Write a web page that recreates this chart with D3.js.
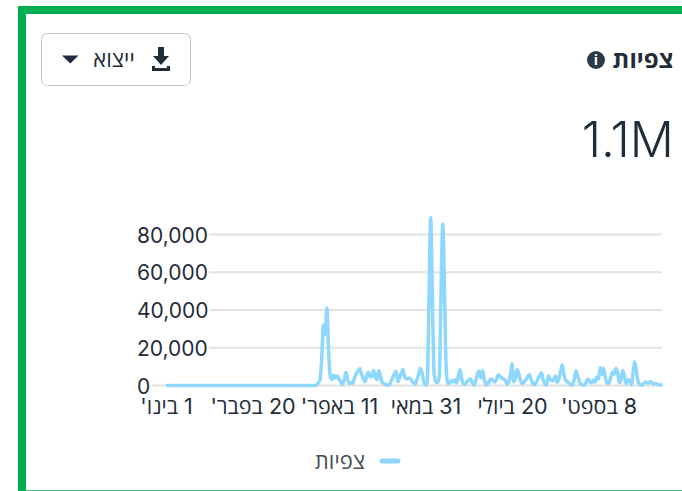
<!DOCTYPE html>
<html>
<head>
<meta charset="utf-8">
<script src="https://cdn.jsdelivr.net/npm/d3@7/dist/d3.min.js"></script>
<style>
html,body{margin:0;padding:0;background:#fff;overflow:hidden}
svg text{font-family:Inter,"Open Sans","DejaVu Sans",sans-serif}
</style>
</head>
<body>
<svg id="chart" width="682" height="491"></svg>
<script>
// day index on the x axis, one value per day from 1 Jan
var tickDays = [0, 50, 100, 150, 200, 250];
var tickLabels = ["1 בינו'", "20 בפבר'", "11 באפר'", "31 במאי", "20 ביולי", "8 בספט'"];
var yTicks = [0, 20000, 40000, 60000, 80000];
var seriesName = 'צפיות';
var views = [
  0,0,0,0,0,0,0,0,0,0,0,0,0,0,0,0,0,0,0,0,
  0,0,0,0,0,0,0,0,0,0,0,0,0,0,0,0,0,0,0,0,
  0,0,0,0,0,0,0,0,0,0,0,0,0,0,0,0,0,0,0,0,
  0,0,0,0,0,0,0,0,0,0,0,0,0,0,0,0,0,0,0,0,
  0,0,0,0,0,0,0,
  300,1500,2800,14000,32000,27000,41000,18000,4500,3200,5500,4000,5000,
  3500,1800,500,3000,7000,3000,1000,1500,1200,4000,6500,7500,9000,6000,4000,2000,5000,7000,4500,5000,
  8000,4500,3000,8000,5000,1500,1000,600,200,300,2000,4000,6000,7500,2000,4000,6500,8500,4500,3500,
  3800,4000,2500,1500,800,3000,6000,9000,7000,2000,300,1500,45000,89000,45000,6000,2000,1500,5000,50000,
  85500,50000,8000,1000,1500,2500,2000,3000,1500,5000,8500,3000,1000,800,2000,3000,3500,1500,300,2500,
  6000,7500,4000,8000,3000,300,1000,2500,3500,2800,1800,3000,5500,5000,4000,3500,3000,800,1500,5000,
  11500,2000,4000,8500,6000,2500,1000,1800,3000,4500,5700,3500,1000,400,1500,3500,5500,6800,3000,800,
  300,5000,3500,2500,3000,5000,1800,3000,7000,11000,6000,2800,2000,1200,300,200,3500,7700,5000,2000,
  600,200,300,2000,3500,2000,1500,2800,1800,4500,3500,9500,6000,9000,4000,1000,1200,4000,7000,6000,
  9000,7000,1500,3000,8000,5000,1000,3000,2500,400,7000,12500,7000,1800,400,200,800,1800,1500,1200,
  2000,1400,800,1000,600,400,300,200
];

var lineColor = '#8ed7ff';
var inkColor = '#1f2d3a';

var svg = d3.select('#chart');

// green frame, open on the right
svg.append('rect').attr('x', 18).attr('y', 6).attr('width', 664).attr('height', 8).attr('fill', '#00b050');
svg.append('rect').attr('x', 18).attr('y', 6).attr('width', 8).attr('height', 485).attr('fill', '#00b050');
svg.append('rect').attr('x', 26).attr('y', 490).attr('width', 656).attr('height', 1).attr('fill', '#3cc277');

// export button
var btn = svg.append('g');
btn.append('rect').attr('x', 41.5).attr('y', 33.5).attr('width', 149).attr('height', 52).attr('rx', 6)
  .attr('fill', '#fff').attr('stroke', '#c0c8d4');
btn.append('path').attr('fill', inkColor)
  .attr('d', 'M158 47h6v9h5l-8 9-8-9h5zM152 66h3v2h12v-2h3v5h-18z');
btn.append('text').attr('x', 114).attr('y', 67).attr('text-anchor', 'middle').attr('direction', 'rtl')
  .attr('font-size', 22).attr('fill', inkColor).text('ייצוא');
btn.append('path').attr('fill', inkColor).attr('d', 'M62 55.500h16.500l-8.250 8z');

// title and total
svg.append('text').attr('x', 673.500).attr('y', 68).attr('text-anchor', 'start').attr('direction', 'rtl')
  .attr('font-size', 24).attr('font-weight', 700).attr('fill', inkColor).text(seriesName);
svg.append('circle').attr('cx', 596).attr('cy', 60).attr('r', 9).attr('fill', '#2b3a47');
svg.append('text').attr('x', 596).attr('y', 65).attr('text-anchor', 'middle').attr('font-size', 14)
  .attr('font-weight', 700).attr('fill', '#fff').text('i');
svg.append('text').attr('x', 674).attr('y', 157).attr('text-anchor', 'end')
  .attr('font-size', 49).attr('font-weight', 300).attr('fill', inkColor).text('1.1M');

// scales
var x = d3.scaleLinear().domain([0, views.length - 1]).range([166, 662.5]);
var y = d3.scaleLinear().domain([0, 80000]).range([385.5, 234.5]);

// grid
svg.append('g').selectAll('line').data(yTicks).enter().append('line')
  .attr('x1', 152).attr('x2', 662)
  .attr('y1', function(d) { return y(d); }).attr('y2', function(d) { return y(d); })
  .attr('stroke', '#e2e2e2').attr('stroke-width', 2);

// y axis labels, left aligned with a white backing
var yAxis = svg.append('g').attr('transform', 'translate(137,1)')
  .call(d3.axisLeft(y).tickValues(yTicks).tickSize(0).tickPadding(0).tickFormat(d3.format(',')));
yAxis.select('.domain').remove();
yAxis.attr('font-family', null);
yAxis.selectAll('text').attr('text-anchor', 'start').attr('x', 0)
  .attr('font-size', 21).attr('fill', inkColor);
yAxis.selectAll('.tick').each(function() {
  var b = this.querySelector('text').getBBox();
  d3.select(this).insert('rect', 'text').attr('x', b.x - 1).attr('y', b.y + 2).attr('width', b.width + 2).attr('height', b.height - 4).attr('fill', '#fff');
});

// x axis
var xAxis = svg.append('g').attr('transform', 'translate(0,398.500)')
  .call(d3.axisBottom(x).tickValues(tickDays).tickSize(0).tickPadding(0)
    .tickFormat(function(d, i) { return tickLabels[i]; }));
xAxis.select('.domain').remove();
xAxis.attr('font-family', null);
xAxis.selectAll('text').attr('direction', 'rtl').attr('font-size', 21.5).attr('fill', inkColor);

// series
var line = d3.line()
  .x(function(d, i) { return x(i); })
  .y(function(d) { return y(d); })
  .curve(d3.curveMonotoneX);
svg.append('path').datum(views).attr('d', line)
  .attr('fill', 'none').attr('stroke', lineColor).attr('stroke-width', 3.5).attr('stroke-linejoin', 'round');

// legend
svg.append('line').attr('x1', 382).attr('x2', 398).attr('y1', 461).attr('y2', 461)
  .attr('stroke', lineColor).attr('stroke-width', 5).attr('stroke-linecap', 'round');
svg.append('text').attr('x', 365).attr('y', 469).attr('text-anchor', 'start').attr('direction', 'rtl')
  .attr('font-size', 22).attr('fill', '#444f5a').text(seriesName);
</script>
</body>
</html>
